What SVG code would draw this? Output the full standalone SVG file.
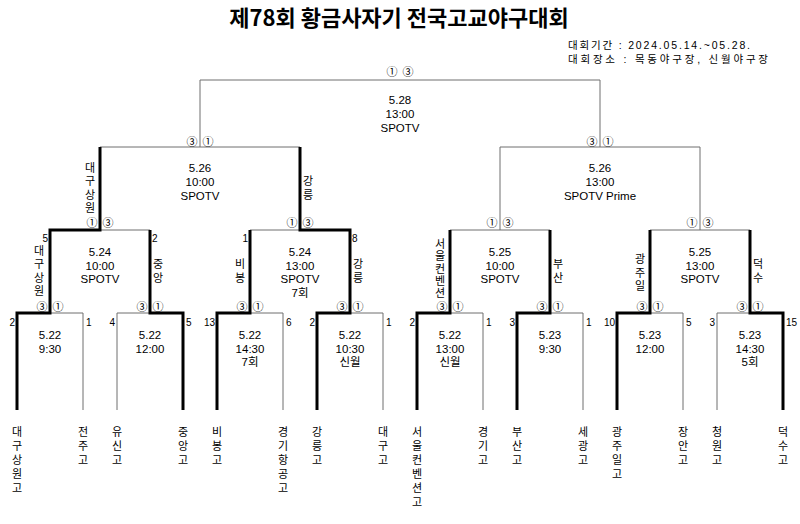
<svg xmlns="http://www.w3.org/2000/svg" width="800" height="524" viewBox="0 0 800 524">
<style>
.thin{fill:none;stroke:#6e6e6e;stroke-width:1}
.thick{fill:none;stroke:#000;stroke-width:3;stroke-linejoin:miter;stroke-linecap:butt}
text{font-family:"Noto Sans CJK KR","Noto Sans",sans-serif;fill:#000}
.t{font-family:"Liberation Sans","Noto Sans CJK KR",sans-serif;font-size:11.5px;text-anchor:middle}
.v{font-size:11px;writing-mode:vertical-rl;text-orientation:upright;letter-spacing:2.5px;text-anchor:middle}
.b{font-size:11px;writing-mode:vertical-rl;text-orientation:upright;letter-spacing:3px;text-anchor:start}
.s{font-family:"Liberation Sans",sans-serif;font-size:10px}
.e{text-anchor:end}
.c{font-size:11px;text-anchor:middle}
.title{font-size:22px;font-weight:bold;text-anchor:middle}
.info{font-family:"Liberation Sans","Noto Sans CJK KR",sans-serif;font-size:10.5px}
</style>
<rect width="800" height="524" fill="#fff"/>
<g id="title"><text class="title" x="399" y="26">제78회 황금사자기 전국고교야구대회</text></g>
<g id="info">
<text class="info" x="568" y="48.5" textLength="182" lengthAdjust="spacing">대회기간 : 2024.05.14.~05.28.</text>
<text class="info" x="568" y="63" textLength="200" lengthAdjust="spacing">대회장소 : 목동야구장, 신월야구장</text>
</g>
<g id="connectors">
<path class="thin" d="M83 410V313H50M117 410V313H150M283 410V313H250M383 410V313H350M483 410V313H450M583 410V313H550M683 410V313H650M717 410V313H750"/>
<path class="thin" d="M100 230H150M250 230H300M450 230H550M650 230H750"/>
<path class="thin" d="M500 230V147M700 230V147M100 147H300M500 147H700M200 147V80H600V147"/>
<path class="thick" d="M17 410V313H50V230H100V147"/>
<path class="thick" d="M183 410V313H150V230"/>
<path class="thick" d="M217 410V313H250V230"/>
<path class="thick" d="M317 410V313H350V230H300V147"/>
<path class="thick" d="M417 410V313H450V230"/>
<path class="thick" d="M517 410V313H550V230"/>
<path class="thick" d="M617 410V313H650V230"/>
<path class="thick" d="M783 410V313H750V230"/>
</g>
<g id="final">
<text class="c" x="392" y="76">①</text><text class="c" x="408" y="76">③</text>
<text class="t" x="400" y="104">5.28</text><text class="t" x="400" y="118">13:00</text><text class="t" x="400" y="132">SPOTV</text>
</g>
<g id="sf1">
<text class="c" x="192" y="145.5">③</text><text class="c" x="208" y="145.5">①</text>
<text class="t" x="200" y="172">5.26</text><text class="t" x="200" y="186">10:00</text><text class="t" x="200" y="200">SPOTV</text>
<text class="v" x="90" y="189">대구상원</text>
<text class="v" x="308" y="189">강릉</text>
</g>
<g id="sf2">
<text class="c" x="592" y="145.5">③</text><text class="c" x="608" y="145.5">①</text>
<text class="t" x="600" y="172">5.26</text><text class="t" x="600" y="186">13:00</text><text class="t" x="600" y="200">SPOTV Prime</text>
</g>
<g id="qf1">
<text class="c" x="92" y="227">①</text><text class="c" x="108" y="227">③</text>
<text class="t" x="100" y="256">5.24</text><text class="t" x="100" y="269.5">10:00</text><text class="t" x="100" y="283">SPOTV</text>
<text class="s e" x="48" y="241.5">5</text><text class="s" x="152" y="241.5">2</text>
<text class="v" x="39" y="272">대구상원</text>
<text class="v" x="158" y="272">중앙</text>
</g>
<g id="qf2">
<text class="c" x="292" y="227">①</text><text class="c" x="308" y="227">③</text>
<text class="t" x="300" y="256">5.24</text><text class="t" x="300" y="269.5">13:00</text><text class="t" x="300" y="283">SPOTV</text><text class="t" x="300" y="296.5">7회</text>
<text class="s e" x="248" y="241.5">1</text><text class="s" x="352" y="241.5">8</text>
<text class="v" x="240" y="272">비봉</text>
<text class="v" x="358" y="272">강릉</text>
</g>
<g id="qf3">
<text class="c" x="492" y="227">①</text><text class="c" x="508" y="227">③</text>
<text class="t" x="500" y="256">5.25</text><text class="t" x="500" y="269.5">10:00</text><text class="t" x="500" y="283">SPOTV</text>
<text class="v" x="440" y="269" style="letter-spacing:1.2px">서울컨벤션</text>
<text class="v" x="558" y="272">부산</text>
</g>
<g id="qf4">
<text class="c" x="692" y="227">①</text><text class="c" x="708" y="227">③</text>
<text class="t" x="700" y="256">5.25</text><text class="t" x="700" y="269.5">13:00</text><text class="t" x="700" y="283">SPOTV</text>
<text class="v" x="640" y="274">광주일</text>
<text class="v" x="758" y="272">덕수</text>
</g>
<g id="r16-1">
<text class="c" x="42" y="310.5">③</text><text class="c" x="58" y="310.5">①</text>
<text class="t" x="50" y="339">5.22</text><text class="t" x="50" y="352.5">9:30</text>
<text class="s e" x="15" y="325.5">2</text><text class="s" x="86" y="325.5">1</text>
</g>
<g id="r16-2">
<text class="c" x="142" y="310.5">③</text><text class="c" x="158" y="310.5">①</text>
<text class="t" x="150" y="339">5.22</text><text class="t" x="150" y="352.5">12:00</text>
<text class="s e" x="115" y="325.5">4</text><text class="s" x="186" y="325.5">5</text>
</g>
<g id="r16-3">
<text class="c" x="242" y="310.5">③</text><text class="c" x="258" y="310.5">①</text>
<text class="t" x="250" y="339">5.22</text><text class="t" x="250" y="352.5">14:30</text><text class="t" x="250" y="366">7회</text>
<text class="s e" x="215" y="325.5">13</text><text class="s" x="286" y="325.5">6</text>
</g>
<g id="r16-4">
<text class="c" x="342" y="310.5">③</text><text class="c" x="358" y="310.5">①</text>
<text class="t" x="350" y="339">5.22</text><text class="t" x="350" y="352.5">10:30</text><text class="t" x="350" y="366">신월</text>
<text class="s e" x="315" y="325.5">2</text><text class="s" x="386" y="325.5">1</text>
</g>
<g id="r16-5">
<text class="c" x="442" y="310.5">③</text><text class="c" x="458" y="310.5">①</text>
<text class="t" x="450" y="339">5.22</text><text class="t" x="450" y="352.5">13:00</text><text class="t" x="450" y="366">신월</text>
<text class="s e" x="415" y="325.5">2</text><text class="s" x="486" y="325.5">1</text>
</g>
<g id="r16-6">
<text class="c" x="542" y="310.5">③</text><text class="c" x="558" y="310.5">①</text>
<text class="t" x="550" y="339">5.23</text><text class="t" x="550" y="352.5">9:30</text>
<text class="s e" x="515" y="325.5">3</text><text class="s" x="586" y="325.5">1</text>
</g>
<g id="r16-7">
<text class="c" x="642" y="310.5">③</text><text class="c" x="658" y="310.5">①</text>
<text class="t" x="650" y="339">5.23</text><text class="t" x="650" y="352.5">12:00</text>
<text class="s e" x="615" y="325.5">10</text><text class="s" x="686" y="325.5">5</text>
</g>
<g id="r16-8">
<text class="c" x="742" y="310.5">③</text><text class="c" x="758" y="310.5">①</text>
<text class="t" x="750" y="339">5.23</text><text class="t" x="750" y="352.5">14:30</text><text class="t" x="750" y="366">5회</text>
<text class="s e" x="715" y="325.5">3</text><text class="s" x="786" y="325.5">15</text>
</g>
<g id="teams">
<text class="b" x="17" y="426">대구상원고</text>
<text class="b" x="83" y="426">전주고</text>
<text class="b" x="117" y="426">유신고</text>
<text class="b" x="183" y="426">중앙고</text>
<text class="b" x="217" y="426">비봉고</text>
<text class="b" x="283" y="426">경기항공고</text>
<text class="b" x="317" y="426">강릉고</text>
<text class="b" x="383" y="426">대구고</text>
<text class="b" x="417" y="426">서울컨벤션고</text>
<text class="b" x="483" y="426">경기고</text>
<text class="b" x="517" y="426">부산고</text>
<text class="b" x="583" y="426">세광고</text>
<text class="b" x="617" y="426">광주일고</text>
<text class="b" x="683" y="426">장안고</text>
<text class="b" x="717" y="426">청원고</text>
<text class="b" x="783" y="426">덕수고</text>
</g>
</svg>
